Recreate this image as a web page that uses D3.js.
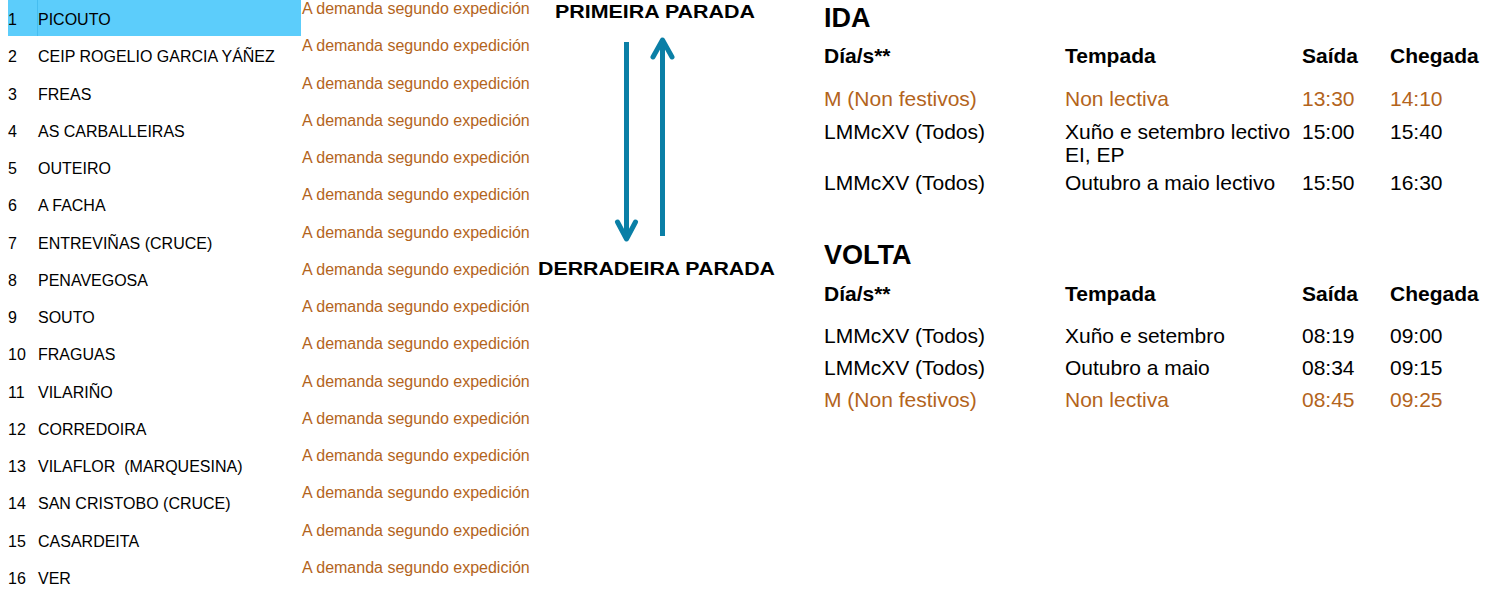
<!DOCTYPE html>
<html>
<head>
<meta charset="utf-8">
<script src="https://cdn.jsdelivr.net/npm/d3@7"></script>
<style>
  html, body { margin: 0; padding: 0; background: #fff; }
  svg { display: block; font-family: "Liberation Sans", Arial, sans-serif; }
  svg text { white-space: pre; }
</style>
</head>
<body>
<svg id="chart" width="1498" height="589"></svg>
<script>
// ---------- data ----------
const stopNumbers = [1, 2, 3, 4, 5, 6, 7, 8, 9, 10, 11, 12, 13, 14, 15, 16];
const stopNames = [
  "PICOUTO", "CEIP ROGELIO GARCIA YÁÑEZ", "FREAS", "AS CARBALLEIRAS", "OUTEIRO",
  "A FACHA", "ENTREVIÑAS (CRUCE)", "PENAVEGOSA", "SOUTO", "FRAGUAS", "VILARIÑO",
  "CORREDOIRA", "VILAFLOR  (MARQUESINA)", "SAN CRISTOBO (CRUCE)", "CASARDEITA", "VER"
];
const stopTimes = [
  "A demanda segundo expedición", "A demanda segundo expedición", "A demanda segundo expedición",
  "A demanda segundo expedición", "A demanda segundo expedición", "A demanda segundo expedición",
  "A demanda segundo expedición", "A demanda segundo expedición", "A demanda segundo expedición",
  "A demanda segundo expedición", "A demanda segundo expedición", "A demanda segundo expedición",
  "A demanda segundo expedición", "A demanda segundo expedición", "A demanda segundo expedición",
  "A demanda segundo expedición"
];
const firstStopLabel = "PRIMEIRA PARADA";
const lastStopLabel = "DERRADEIRA PARADA";

const tableHeaders = ["Día/s**", "Tempada", "Saída", "Chegada"];

const idaTitle = "IDA";
const idaDays    = ["M (Non festivos)", "LMMcXV (Todos)", "LMMcXV (Todos)"];
const idaSeason  = ["Non lectiva", "Xuño e setembro lectivo EI, EP", "Outubro a maio lectivo"];
const idaDepart  = ["13:30", "15:00", "15:50"];
const idaArrive  = ["14:10", "15:40", "16:30"];
const idaSpecial = [true, false, false];

const voltaTitle = "VOLTA";
const voltaDays    = ["LMMcXV (Todos)", "LMMcXV (Todos)", "M (Non festivos)"];
const voltaSeason  = ["Xuño e setembro", "Outubro a maio", "Non lectiva"];
const voltaDepart  = ["08:19", "08:34", "08:45"];
const voltaArrive  = ["09:00", "09:15", "09:25"];
const voltaSpecial = [false, false, true];

// ---------- styles ----------
const ORANGE = "#b3641c";
const BLUE = "#0a7fa6";
const HILITE = "#5ccdfb";

const svg = d3.select("#chart");

// ---------- left: stop list ----------
const yStop = d3.scaleLinear().domain([0, stopNames.length - 1]).range([25, 584]);
const yTime = d3.scaleLinear().domain([0, stopTimes.length - 1]).range([14, 573]);

svg.append("rect")
  .attr("x", 8).attr("y", 0).attr("width", 293).attr("height", 36)
  .attr("fill", HILITE);
svg.append("line")
  .attr("x1", 37.5).attr("x2", 37.5).attr("y1", 0).attr("y2", 36)
  .attr("stroke", "#45bdf0").attr("stroke-width", 1);

const stopG = svg.append("g");
stopG.selectAll("text.num").data(stopNumbers).join("text")
  .attr("class", "num")
  .attr("x", 8).attr("y", (d, i) => yStop(i))
  .attr("font-size", 16).attr("fill", "#000")
  .text(d => d);
stopG.selectAll("text.name").data(stopNames).join("text")
  .attr("class", "name")
  .attr("x", 38).attr("y", (d, i) => yStop(i))
  .attr("font-size", 16).attr("fill", "#000")
  .text(d => d);
svg.append("g").selectAll("text").data(stopTimes).join("text")
  .attr("x", 302).attr("y", (d, i) => yTime(i))
  .attr("font-size", 16).attr("fill", ORANGE)
  .text(d => d);

// ---------- centre: direction arrows ----------
svg.append("text")
  .attr("x", 655).attr("y", 18).attr("text-anchor", "middle")
  .attr("font-size", 18).attr("font-weight", "bold")
  .attr("textLength", 200).attr("lengthAdjust", "spacingAndGlyphs")
  .text(firstStopLabel);
svg.append("text")
  .attr("x", 656.5).attr("y", 275).attr("text-anchor", "middle")
  .attr("font-size", 18).attr("font-weight", "bold")
  .attr("textLength", 237).attr("lengthAdjust", "spacingAndGlyphs")
  .text(lastStopLabel);

const arrowG = svg.append("g")
  .attr("stroke", BLUE).attr("stroke-width", 5).attr("fill", "none")
  .attr("stroke-linecap", "round").attr("stroke-linejoin", "round");
// down arrow
arrowG.append("line").attr("x1", 626.5).attr("x2", 626.5).attr("y1", 42).attr("y2", 238).attr("stroke-linecap", "butt");
arrowG.append("polyline").attr("points", "617.5,222 626.5,239 635.5,222");
// up arrow
arrowG.append("line").attr("x1", 662.5).attr("x2", 662.5).attr("y1", 42).attr("y2", 236).attr("stroke-linecap", "butt");
arrowG.append("polyline").attr("points", "653,57 662.5,40 672,57");

// ---------- right: timetables ----------
const colX = [824, 1065, 1302, 1390];
const seasonWidth = 1298 - 1065;

function drawTable(title, titleY, headerY, firstRowY, pitch, days, season, dep, arr, special) {
  svg.append("text").attr("x", colX[0]).attr("y", titleY)
    .attr("font-size", 27).attr("font-weight", "bold").text(title);
  svg.append("g").selectAll("text").data(tableHeaders).join("text")
    .attr("x", (d, i) => colX[i]).attr("y", headerY)
    .attr("font-size", 21).attr("font-weight", "bold").text(d => d);

  let y = firstRowY;
  days.forEach((d, i) => {
    const color = special[i] ? ORANGE : "#000";
    const g = svg.append("g").attr("fill", color).attr("font-size", 21);
    g.append("text").attr("x", colX[0]).attr("y", y).text(d);
    g.append("text").attr("x", colX[2]).attr("y", y).text(dep[i]);
    g.append("text").attr("x", colX[3]).attr("y", y).text(arr[i]);
    // wrapped season text
    const words = season[i].split(" ");
    const t = g.append("text").attr("x", colX[1]).attr("y", y);
    let line = [];
    let lineNo = 0;
    let tspan = t.append("tspan").attr("x", colX[1]).attr("y", y);
    words.forEach(w => {
      line.push(w);
      tspan.text(line.join(" "));
      if (tspan.node().getComputedTextLength() > seasonWidth && line.length > 1) {
        line.pop();
        tspan.text(line.join(" "));
        line = [w];
        lineNo++;
        tspan = t.append("tspan").attr("x", colX[1]).attr("y", y + lineNo * 23).text(w);
      }
    });
    y += pitch + lineNo * 18;
  });
}

drawTable(idaTitle, 27, 63, 106, 33, idaDays, idaSeason, idaDepart, idaArrive, idaSpecial);
drawTable(voltaTitle, 264, 301, 343, 32, voltaDays, voltaSeason, voltaDepart, voltaArrive, voltaSpecial);
</script>
</body>
</html>
